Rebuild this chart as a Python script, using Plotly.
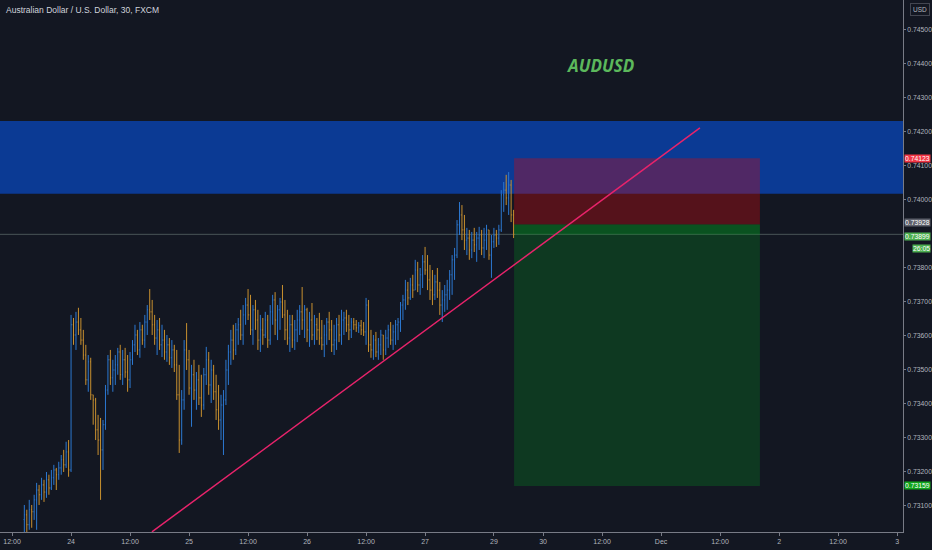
import plotly.graph_objects as go

# 30 minute bars, AUDUSD (FXCM)
highs = [
    0.73103, 0.73089, 0.73118, 0.73103, 0.73133, 0.73168, 0.73162, 0.73183, 0.73177, 0.73200,
    0.73192, 0.73206, 0.73221, 0.73212, 0.73230, 0.73250, 0.73265, 0.73289, 0.73294, 0.73662,
    0.73653, 0.73671, 0.73683, 0.73653, 0.73618, 0.73574, 0.73544, 0.73536, 0.73427, 0.73418,
    0.73368, 0.73359, 0.73353, 0.73456, 0.73544, 0.73559, 0.73530, 0.73544, 0.73565, 0.73574,
    0.73559, 0.73565, 0.73544, 0.73553, 0.73588, 0.73633, 0.73618, 0.73641, 0.73633, 0.73662,
    0.73691, 0.73738, 0.73706, 0.73662, 0.73647, 0.73653, 0.73633, 0.73618, 0.73603, 0.73594,
    0.73588, 0.73574, 0.73559, 0.73515, 0.73441, 0.73588, 0.73638, 0.73559, 0.73515, 0.73530,
    0.73494, 0.73515, 0.73486, 0.73506, 0.73568, 0.73553, 0.73530, 0.73515, 0.73486, 0.73456,
    0.73427, 0.73441, 0.73530, 0.73574, 0.73618, 0.73633, 0.73638, 0.73653, 0.73677, 0.73691,
    0.73712, 0.73738, 0.73721, 0.73691, 0.73706, 0.73677, 0.73662, 0.73653, 0.73671, 0.73662,
    0.73691, 0.73721, 0.73729, 0.73691, 0.73712, 0.73750, 0.73706, 0.73677, 0.73662, 0.73662,
    0.73647, 0.73677, 0.73691, 0.73744, 0.73691, 0.73683, 0.73671, 0.73697, 0.73662, 0.73653,
    0.73668, 0.73647, 0.73633, 0.73653, 0.73671, 0.73647, 0.73633, 0.73653, 0.73662, 0.73677,
    0.73671, 0.73677, 0.73662, 0.73653, 0.73653, 0.73647, 0.73641, 0.73647, 0.73641, 0.73712,
    0.73706, 0.73618, 0.73603, 0.73612, 0.73594, 0.73618, 0.73603, 0.73618, 0.73633, 0.73641,
    0.73633, 0.73647, 0.73653, 0.73700, 0.73721, 0.73765, 0.73759, 0.73771, 0.73780, 0.73824,
    0.73818, 0.73800, 0.73838, 0.73862, 0.73838, 0.73809, 0.73794, 0.73780, 0.73800, 0.73759,
    0.73735, 0.73750, 0.73765, 0.73794, 0.73838, 0.73859, 0.73941, 0.73994, 0.73985, 0.73956,
    0.73918, 0.73912, 0.73906, 0.73918, 0.73906, 0.73921, 0.73912, 0.73918, 0.73927, 0.73912,
    0.73897, 0.73918, 0.73912, 0.73927, 0.74029, 0.74053, 0.74074, 0.74082, 0.74059, 0.73971,
]
lows = [
    0.73015, 0.73000, 0.73030, 0.73036, 0.73059, 0.73030, 0.73103, 0.73118, 0.73112, 0.73124,
    0.73133, 0.73147, 0.73162, 0.73147, 0.73177, 0.73192, 0.73200, 0.73212, 0.73186, 0.73200,
    0.73574, 0.73559, 0.73603, 0.73574, 0.73530, 0.73456, 0.73436, 0.73412, 0.73339, 0.73294,
    0.73250, 0.73118, 0.73206, 0.73324, 0.73427, 0.73456, 0.73436, 0.73456, 0.73486, 0.73471,
    0.73456, 0.73477, 0.73436, 0.73447, 0.73515, 0.73553, 0.73544, 0.73536, 0.73574, 0.73565,
    0.73603, 0.73647, 0.73603, 0.73574, 0.73544, 0.73559, 0.73538, 0.73530, 0.73524, 0.73515,
    0.73506, 0.73494, 0.73412, 0.73256, 0.73280, 0.73383, 0.73500, 0.73427, 0.73333, 0.73412,
    0.73383, 0.73397, 0.73362, 0.73383, 0.73456, 0.73427, 0.73403, 0.73412, 0.73353, 0.73324,
    0.73294, 0.73250, 0.73397, 0.73456, 0.73515, 0.73530, 0.73544, 0.73574, 0.73588, 0.73574,
    0.73633, 0.73647, 0.73603, 0.73574, 0.73618, 0.73559, 0.73553, 0.73574, 0.73594, 0.73565,
    0.73574, 0.73633, 0.73603, 0.73588, 0.73618, 0.73653, 0.73588, 0.73574, 0.73553, 0.73565,
    0.73559, 0.73582, 0.73603, 0.73618, 0.73594, 0.73582, 0.73568, 0.73588, 0.73574, 0.73588,
    0.73574, 0.73559, 0.73538, 0.73574, 0.73588, 0.73553, 0.73544, 0.73559, 0.73582, 0.73574,
    0.73603, 0.73612, 0.73588, 0.73594, 0.73618, 0.73612, 0.73609, 0.73603, 0.73600, 0.73574,
    0.73553, 0.73536, 0.73530, 0.73538, 0.73530, 0.73544, 0.73530, 0.73544, 0.73565, 0.73574,
    0.73559, 0.73574, 0.73588, 0.73612, 0.73647, 0.73677, 0.73691, 0.73706, 0.73712, 0.73735,
    0.73729, 0.73721, 0.73741, 0.73780, 0.73735, 0.73706, 0.73691, 0.73706, 0.73712, 0.73662,
    0.73641, 0.73671, 0.73677, 0.73706, 0.73721, 0.73765, 0.73829, 0.73897, 0.73882, 0.73853,
    0.73838, 0.73824, 0.73829, 0.73847, 0.73818, 0.73853, 0.73838, 0.73829, 0.73853, 0.73824,
    0.73771, 0.73859, 0.73862, 0.73868, 0.73906, 0.73965, 0.73985, 0.73956, 0.73935, 0.73888,
]
closes = [
    0.73074, 0.73045, 0.73089, 0.73083, 0.73118, 0.73147, 0.73133, 0.73162, 0.73141, 0.73177,
    0.73153, 0.73183, 0.73206, 0.73192, 0.73212, 0.73236, 0.73221, 0.73259, 0.73206, 0.73633,
    0.73603, 0.73641, 0.73618, 0.73588, 0.73544, 0.73471, 0.73524, 0.73427, 0.73412, 0.73324,
    0.73294, 0.73265, 0.73339, 0.73441, 0.73530, 0.73477, 0.73500, 0.73515, 0.73553, 0.73486,
    0.73530, 0.73494, 0.73471, 0.73530, 0.73574, 0.73603, 0.73559, 0.73618, 0.73588, 0.73641,
    0.73677, 0.73671, 0.73633, 0.73594, 0.73618, 0.73574, 0.73588, 0.73553, 0.73574, 0.73536,
    0.73559, 0.73515, 0.73427, 0.73294, 0.73412, 0.73559, 0.73530, 0.73447, 0.73486, 0.73441,
    0.73471, 0.73418, 0.73397, 0.73486, 0.73530, 0.73456, 0.73500, 0.73436, 0.73383, 0.73353,
    0.73397, 0.73412, 0.73500, 0.73553, 0.73588, 0.73559, 0.73618, 0.73633, 0.73603, 0.73662,
    0.73691, 0.73662, 0.73618, 0.73677, 0.73647, 0.73588, 0.73618, 0.73603, 0.73647, 0.73588,
    0.73671, 0.73706, 0.73647, 0.73677, 0.73700, 0.73662, 0.73618, 0.73594, 0.73633, 0.73588,
    0.73618, 0.73647, 0.73671, 0.73647, 0.73677, 0.73618, 0.73647, 0.73603, 0.73633, 0.73618,
    0.73594, 0.73574, 0.73603, 0.73641, 0.73618, 0.73574, 0.73588, 0.73633, 0.73603, 0.73647,
    0.73653, 0.73633, 0.73618, 0.73641, 0.73633, 0.73624, 0.73630, 0.73618, 0.73612, 0.73691,
    0.73574, 0.73559, 0.73588, 0.73553, 0.73574, 0.73603, 0.73559, 0.73594, 0.73618, 0.73588,
    0.73612, 0.73633, 0.73641, 0.73691, 0.73706, 0.73735, 0.73712, 0.73750, 0.73735, 0.73794,
    0.73750, 0.73780, 0.73818, 0.73794, 0.73765, 0.73735, 0.73721, 0.73759, 0.73735, 0.73691,
    0.73706, 0.73721, 0.73735, 0.73780, 0.73824, 0.73838, 0.73927, 0.73956, 0.73912, 0.73882,
    0.73888, 0.73853, 0.73882, 0.73868, 0.73888, 0.73897, 0.73859, 0.73882, 0.73912, 0.73838,
    0.73877, 0.73897, 0.73888, 0.73912, 0.74015, 0.74029, 0.74006, 0.74044, 0.73956, 0.73899,
]
first_open = 0.73060
opens = [first_open] + closes[:-1]
bar_index = list(range(len(closes)))

# time axis (bar numbers, weekend compressed like the tradingview scale)
tick_bars = [-5, 19, 43, 67, 91, 115, 139, 163, 191, 211, 235, 259, 283, 307, 331, 355]
tick_text = ["12:00", "24", "12:00", "25", "12:00", "26", "12:00", "27",
             "29", "30", "12:00", "Dec", "12:00", "2", "12:00", "3"]

# price scale ticks (0.73900 sits under the live price labels, so it is not drawn)
price_ticks = [0.731, 0.732, 0.733, 0.734, 0.735, 0.736, 0.737, 0.738,
               0.740, 0.741, 0.742, 0.743, 0.744, 0.745]

# drawings
zone_low, zone_high = 0.74018, 0.74232          # blue supply zone
entry, stop, target = 0.73928, 0.74123, 0.73159  # short position
last_price = 0.73899
pos_start, pos_end = 199.2, 299.2
trend_x = [51.9, 274.8]
trend_y = [0.73024, 0.74212]

bg = "#131722"
txt = "#b2b5be"
font_fam = "Liberation Sans, Arial, sans-serif"

fig = go.Figure()
fig.add_trace(go.Ohlc(
    x=bar_index, open=opens, high=highs, low=lows, close=closes,
    increasing_line_color="#2c78d0", decreasing_line_color="#c8902f",
    line_width=1, tickwidth=0.3, hoverinfo="skip", showlegend=False,
))

# zone and position boxes
fig.add_shape(type="rect", xref="paper", x0=0, x1=1, y0=zone_low, y1=zone_high,
              fillcolor="#0b3a94", line_width=0, layer="below")
fig.add_shape(type="rect", x0=pos_start, x1=pos_end, y0=entry, y1=stop,
              fillcolor="rgba(208,9,14,0.35)", line_width=0, layer="below")
fig.add_shape(type="rect", x0=pos_start, x1=pos_end, y0=target, y1=entry,
              fillcolor="rgba(0,160,30,0.25)", line_width=0, layer="below")
fig.add_shape(type="rect", x0=pos_start, x1=pos_end, y0=last_price, y1=entry,
              fillcolor="rgba(0,160,30,0.25)", line_width=0, layer="below")
fig.add_shape(type="line", xref="paper", x0=0, x1=1, y0=last_price, y1=last_price,
              line=dict(color="rgba(140,160,150,0.45)", width=1), layer="below")
fig.add_shape(type="line", x0=trend_x[0], x1=trend_x[1], y0=trend_y[0], y1=trend_y[1],
              line=dict(color="#e8236b", width=1.5), layer="above")

# price labels on the axis (close ones nudged apart, as tradingview does)
labels = [
    (stop, "0.74123", "#f23645", 0),
    (entry, "0.73928", "#5d606b", 1.5),
    (last_price, "0.73899", "#4caf50", -2.5),
    (target, "0.73159", "#12a51d", 0),
]
for price, text, col, nudge in labels:
    fig.add_annotation(x=1, xref="paper", xanchor="left", xshift=1, y=price, yref="y",
                       yshift=nudge, text=text, showarrow=False, bgcolor=col, borderpad=0,
                       font=dict(size=6.8, color="white", family=font_fam))
fig.add_annotation(x=1, xref="paper", xanchor="left", xshift=9, y=last_price, yref="y",
                   yshift=-14, text="26:05", showarrow=False, bgcolor="#4caf50", borderpad=0,
                   font=dict(size=6.8, color="white", family=font_fam))

fig.add_annotation(x=0.004, xref="paper", y=0.995, yref="paper", xanchor="left", yanchor="top",
                   text="Australian Dollar / U.S. Dollar, 30, FXCM", showarrow=False,
                   font=dict(size=8.5, color="#d1d4dc", family=font_fam))
fig.add_annotation(x=1, xref="paper", xanchor="left", xshift=7, y=0.995, yref="paper",
                   yanchor="top", text="USD", showarrow=False, bordercolor="#434651",
                   borderwidth=1, borderpad=2, font=dict(size=6.5, color=txt, family=font_fam))
fig.add_annotation(x=0.665, xref="paper", y=0.902, yref="paper",
                   text="<i><b>AUDUSD</b></i>", showarrow=False,
                   font=dict(size=17, color="#5cb85c", family="Open Sans"))

fig.update_layout(
    width=932, height=550,
    margin=dict(l=0, r=29, t=0, b=18),
    paper_bgcolor=bg, plot_bgcolor=bg,
    font=dict(family=font_fam, size=7, color=txt),
    showlegend=False,
    xaxis=dict(range=[-9.9, 357.4], tickvals=tick_bars, ticktext=tick_text,
               showgrid=False, zeroline=False, showline=True, linecolor="#787b86",
               ticks="outside", ticklen=3, tickcolor="#787b86", automargin=False,
               tickfont=dict(size=7, color=txt), rangeslider=dict(visible=False)),
    yaxis=dict(side="right", range=[0.730235, 0.745882], tickvals=price_ticks,
               tickformat=".5f", showgrid=False, zeroline=False, showline=True,
               linecolor="#787b86", ticks="outside", ticklen=2, tickcolor="#787b86",
               automargin=False, tickfont=dict(size=6.8, color=txt)),
)

# page body has a default 8px margin; drop it so the figure fills the window
fig.write_html("out.html", config={"displayModeBar": False},
               post_script="document.body.style.margin='0';")
